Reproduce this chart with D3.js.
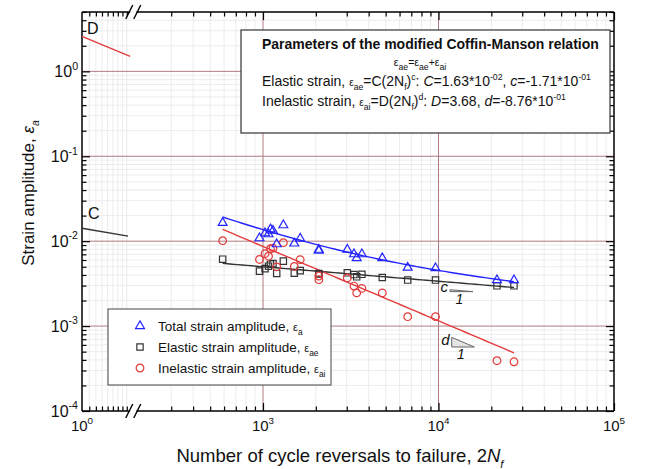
<!DOCTYPE html>
<html><head><meta charset="utf-8">
<script src="https://cdn.jsdelivr.net/npm/d3@7"></script>
<style>
html,body{margin:0;padding:0;background:#fff;}
svg{display:block;font-family:Arial,"Liberation Sans",sans-serif;}
</style></head><body>
<svg id="chart" width="647" height="469"></svg>
<script>
// Fatigue tests: reversals to failure (2Nf) and measured strain amplitudes
const reversals    = [589, 955, 1027, 1075, 1103, 1140, 1197, 1306, 1508, 1629, 2080, 2080, 3022, 3300, 3419, 3660, 4783, 6675, 9614, 21540, 26930];
const totalAmp     = [0.01642, 0.01085, 0.01242, 0.01209, 0.01384, 0.01329, 0.00922, 0.01543, 0.00940, 0.01076, 0.00794, 0.00773, 0.00794, 0.00703, 0.00631, 0.00703, 0.00631, 0.00488, 0.00481, 0.00348, 0.00348];
const elasticAmp   = [0.00614, 0.00444, 0.00475, 0.00508, 0.00536, 0.00544, 0.00417, 0.00582, 0.00420, 0.00450, 0.00417, 0.00411, 0.00424, 0.00404, 0.00380, 0.00407, 0.00374, 0.00348, 0.00348, 0.00298, 0.00298];
const inelasticAmp = [0.01014, 0.00609, 0.00713, 0.00666, 0.00816, 0.00827, 0.00498, 0.00960, 0.00504, 0.00606, 0.00388, 0.00352, 0.00369, 0.00296, 0.00246, 0.00278, 0.00246, 0.00129, 0.00129, 0.000391, 0.000380];

// Modified Coffin-Manson parameters
const C = 1.63e-2, c = -0.171;
const D = 3.68,   d = -0.876;
const fitRange = [589, 26930];

// Intercept markers drawn on the short segment near 2Nf = 1
const dMarkerN = [1, 1.88], dMarkerAmp = [2.58, 1.50];
const cMarkerN = [1, 1.83], cMarkerAmp = [0.0142, 0.0115];

// Slope triangles (start reversals, start amplitude, run in decades)
const slopeMarks = [
  {label: "c", slope: c, n0: 11630, top: 0.00268, run: 0.131},
  {label: "d", slope: d, n0: 11890, top: 0.000736, run: 0.129}
];

// Axis ticks
const xMajorRight = [1e3, 1e4, 1e5];
const xMinorRight = [300,400,500,600,700,800,900, 2000,3000,4000,5000,6000,7000,8000,9000, 20000,30000,40000,50000,60000,70000,80000,90000];
const xMinorLeft  = [1.1,1.2,1.3,1.4,1.5,1.6,1.7,1.8];
const xLabels = [{v: 1, e: "0", seg: "left"}, {v: 1e3, e: "3", seg: "right"}, {v: 1e4, e: "4", seg: "right"}, {v: 1e5, e: "5", seg: "right"}];
const yMajor = [1e-4, 1e-3, 1e-2, 1e-1, 1e0];
const yExp   = ["-4", "-3", "-2", "-1", "0"];
const yMinor = [];
[1e-4, 1e-3, 1e-2, 1e-1].forEach(b => [2,3,4,5,6,7,8,9].forEach(m => yMinor.push(b*m)));
[2,3,4,5].forEach(m => yMinor.push(m));

const L = 82, R = 614, T = 12, B = 411;
const svg = d3.select("#chart");

// Broken logarithmic x axis: a short piece starting at 1, then 10^2.3 .. 10^5
const xLeft  = d3.scaleLog().domain([1, 10]).range([L, L + 175.5]);
const xRight = d3.scaleLog().domain([100, 1e5]).range([L + 5.5, R]);
const x = v => (v < 10 ? xLeft(v) : xRight(v));
const y = d3.scaleLog().domain([1e-4, 5]).range([B, T]);
const breakL = xLeft(1.88), breakR = xRight(190);

// Grid
const grid = svg.append("g");
grid.selectAll(".gxm").data(xMinorRight.concat(xMinorLeft)).join("line")
  .attr("x1", v => x(v)).attr("x2", v => x(v)).attr("y1", T).attr("y2", B)
  .attr("stroke", "#ececec").attr("stroke-width", 1);
grid.selectAll(".gym").data(yMinor).join("line")
  .attr("x1", L).attr("x2", R).attr("y1", v => y(v)).attr("y2", v => y(v))
  .attr("stroke", "#ececec").attr("stroke-width", 1);
grid.selectAll(".gxM").data([1e3, 1e4]).join("line")
  .attr("x1", v => x(v)).attr("x2", v => x(v)).attr("y1", T).attr("y2", B)
  .attr("stroke", "#b07a82").attr("stroke-width", 1);
grid.selectAll(".gyM").data([1e-3, 1e-2, 1e-1, 1e0]).join("line")
  .attr("x1", L).attr("x2", R).attr("y1", v => y(v)).attr("y2", v => y(v))
  .attr("stroke", "#b07a82").attr("stroke-width", 1);

// Ticks (inward) on all four sides
function ticks(axisGen, scale, values, size, tx, ty) {
  const g = svg.append("g").attr("transform", `translate(${tx},${ty})`)
    .call(axisGen(scale).tickValues(values).tickSize(-size).tickFormat(""));
  g.select(".domain").remove();
  g.selectAll("line").attr("stroke", "#000").attr("stroke-width", 1.2);
}
ticks(d3.axisBottom, xRight, xMinorRight, 4.5, 0, B);
ticks(d3.axisBottom, xRight, xMajorRight, 8, 0, B);
ticks(d3.axisBottom, xLeft, xMinorLeft, 4.5, 0, B);
ticks(d3.axisTop, xRight, xMinorRight, 4.5, 0, T);
ticks(d3.axisTop, xRight, xMajorRight, 8, 0, T);
ticks(d3.axisTop, xLeft, xMinorLeft, 4.5, 0, T);
ticks(d3.axisLeft, y, yMinor, 4.5, L, 0);
ticks(d3.axisLeft, y, yMajor, 8, L, 0);
ticks(d3.axisRight, y, yMinor, 4.5, R, 0);
ticks(d3.axisRight, y, yMajor, 8, R, 0);

// Frame with axis breaks
const frame = svg.append("g").attr("stroke", "#000").attr("stroke-width", 1.5).attr("fill", "none");
frame.append("line").attr("x1", L).attr("x2", L).attr("y1", T).attr("y2", B);
frame.append("line").attr("x1", R).attr("x2", R).attr("y1", T).attr("y2", B);
[T, B].forEach(yy => {
  frame.append("line").attr("x1", L).attr("x2", breakL).attr("y1", yy).attr("y2", yy);
  frame.append("line").attr("x1", breakR).attr("x2", R).attr("y1", yy).attr("y2", yy);
  [-4, 4].forEach(off => {
    const cx = (breakL + breakR) / 2 + off;
    frame.append("line").attr("x1", cx - 3.5).attr("x2", cx + 3.5)
      .attr("y1", yy + 7).attr("y2", yy - 7).attr("stroke-width", 1.4);
  });
});

// Tick labels with superscript exponents
function powLabel(px, py, exp, anchor, size) {
  const t = svg.append("text").attr("x", px).attr("y", py)
    .attr("text-anchor", anchor).attr("font-size", size).attr("fill", "#111");
  t.append("tspan").text("10");
  t.append("tspan").attr("dy", -0.45 * size).attr("font-size", size * 0.66).text(exp);
}
yMajor.forEach((v, i) => powLabel(L - 4, y(v) + 5.5, yExp[i], "end", 16));
xLabels.forEach(o => powLabel(o.seg === "left" ? xLeft(o.v) : xRight(o.v), 431, o.e, "middle", 15));

// Rich text helper: [string, kinds] with kinds among sub, sup, it, eps
function rich(sel, parts, size, epsScale = 0.8) {
  let shift = 0;
  parts.forEach(([str, kind]) => {
    const ts = sel.append("tspan").text(str);
    let target = 0, fs = size;
    if (kind.includes("sub")) { target = 0.3 * size; fs = 0.62 * size; }
    if (kind.includes("sup")) { target = -0.42 * size; fs = 0.62 * size; }
    if (kind.includes("eps")) fs = epsScale * size;
    ts.attr("dy", target - shift).attr("font-size", fs);
    if (kind.includes("it")) ts.attr("font-style", "italic");
    shift = target;
  });
}

// Axis titles
const yt = svg.append("text").attr("transform", "translate(34,193) rotate(-90)")
  .attr("text-anchor", "middle").attr("font-size", 17).attr("fill", "#111");
rich(yt, [["Strain amplitude, ", ""], ["ε", "it"], ["a", "sub it"]], 17, 1);
const xt = svg.append("text").attr("x", 340).attr("y", 462)
  .attr("text-anchor", "middle").attr("font-size", 18.5).attr("fill", "#111");
rich(xt, [["Number of cycle reversals to failure, 2", ""], ["N", "it"], ["f", "sub it"]], 18.5);

// Intercept markers C and D
const seg = d3.line().x(p => x(p[0])).y(p => y(p[1]));
svg.append("path").attr("d", seg(d3.zip(dMarkerN, dMarkerAmp)))
  .attr("stroke", "#e03a3a").attr("stroke-width", 1.3).attr("fill", "none");
svg.append("path").attr("d", seg(d3.zip(cMarkerN, cMarkerAmp)))
  .attr("stroke", "#333").attr("stroke-width", 1.3).attr("fill", "none");
svg.append("text").attr("x", x(1) + 5).attr("y", y(dMarkerAmp[0]) - 2)
  .attr("font-size", 16).attr("fill", "#111").text("D");
svg.append("text").attr("x", x(1) + 6).attr("y", y(cMarkerAmp[0]) - 9)
  .attr("font-size", 16).attr("fill", "#111").text("C");

// Fitted curves
const samples = d3.range(0, 61).map(i => fitRange[0] * Math.pow(fitRange[1] / fitRange[0], i / 60));
const elastic = n => C * Math.pow(n, c);
const inelastic = n => D * Math.pow(n, d);
const curve = f => d3.line().x(n => x(n)).y(n => y(f(n)))(samples);
const colors = {total: "#2323ff", elastic: "#333333", inelastic: "#e33b3b"};
svg.append("path").attr("d", curve(n => elastic(n) + inelastic(n)))
  .attr("stroke", colors.total).attr("stroke-width", 1.4).attr("fill", "none");
svg.append("path").attr("d", curve(elastic))
  .attr("stroke", colors.elastic).attr("stroke-width", 1.4).attr("fill", "none");
svg.append("path").attr("d", curve(inelastic))
  .attr("stroke", colors.inelastic).attr("stroke-width", 1.4).attr("fill", "none");

// Data markers
const symTri = d3.symbol().type(d3.symbolTriangle).size(34)();
const symSq  = d3.symbol().type(d3.symbolSquare).size(40)();
const symCir = d3.symbol().type(d3.symbolCircle).size(46)();
function markers(values, sym, color) {
  svg.append("g").selectAll("path").data(d3.zip(reversals, values)).join("path")
    .attr("d", sym).attr("transform", p => `translate(${x(p[0])},${y(p[1])})`)
    .attr("fill", "none").attr("stroke", color).attr("stroke-width", 1.2);
}
markers(elasticAmp, symSq, colors.elastic);
markers(inelasticAmp, symCir, colors.inelastic);
markers(totalAmp, symTri, colors.total);

// Slope triangles
slopeMarks.forEach(s => {
  const n1 = s.n0 * Math.pow(10, s.run);
  const bottom = s.top * Math.pow(10, s.slope * s.run);
  const pts = [[s.n0, s.top], [n1, bottom], [s.n0, bottom]];
  svg.append("path").attr("d", d3.line().x(p => x(p[0])).y(p => y(p[1]))(pts) + "Z")
    .attr("fill", "#e4e4e4").attr("stroke", "#666").attr("stroke-width", 1);
  svg.append("text").attr("x", x(s.n0) - 2).attr("y", y(bottom) + (s.label === "c" ? 0 : -2))
    .attr("text-anchor", "end").attr("font-size", 15).attr("font-style", "italic").attr("fill", "#111").text(s.label);
  svg.append("text").attr("x", (x(s.n0) + x(n1)) / 2 - 2).attr("y", y(bottom) + 12)
    .attr("text-anchor", "middle").attr("font-size", 14).attr("font-style", "italic").attr("fill", "#111").text("1");
});

// Legend
const lg = svg.append("g");
lg.append("rect").attr("x", 108).attr("y", 309).attr("width", 223).attr("height", 76)
  .attr("fill", "#fff").attr("stroke", "#444").attr("stroke-width", 1);
const legendItems = [
  {sym: symTri, color: colors.total, parts: [["Total strain amplitude, ", ""], ["ε", "eps"], ["a", "sub"]]},
  {sym: symSq, color: colors.elastic, parts: [["Elastic strain amplitude, ", ""], ["ε", "eps"], ["ae", "sub"]]},
  {sym: symCir, color: colors.inelastic, parts: [["Inelastic strain amplitude, ", ""], ["ε", "eps"], ["ai", "sub"]]}
];
legendItems.forEach((it, i) => {
  const yy = 326 + i * 21;
  lg.append("path").attr("d", it.sym).attr("transform", `translate(140,${yy})`)
    .attr("fill", "none").attr("stroke", it.color).attr("stroke-width", 1.2);
  const t = lg.append("text").attr("x", 158).attr("y", yy + 5).attr("font-size", 13.5).attr("fill", "#111");
  rich(t, it.parts, 13.5);
});

// Parameter box
const pb = svg.append("g");
pb.append("rect").attr("x", 241).attr("y", 30).attr("width", 369).attr("height", 103)
  .attr("fill", "#fff").attr("stroke", "#333").attr("stroke-width", 1.2);
pb.append("text").attr("x", 262).attr("y", 49).attr("font-size", 14).attr("font-weight", "bold")
  .attr("fill", "#111").text("Parameters of the modified Coffin-Manson relation");
const l2 = pb.append("text").attr("x", 420).attr("y", 66).attr("text-anchor", "middle")
  .attr("font-size", 14).attr("fill", "#111");
rich(l2, [["ε", "eps"], ["ae", "sub"], ["=ε", "eps"], ["ae", "sub"], ["+ε", "eps"], ["ai", "sub"]], 14, 0.75);
const l3 = pb.append("text").attr("x", 262).attr("y", 86).attr("font-size", 14).attr("fill", "#111");
rich(l3, [["Elastic strain, ", ""], ["ε", "eps"], ["ae", "sub"], ["=C(2N", ""], ["f", "sub"], [")", ""], ["c", "sup"],
  [": ", ""], ["C", "it"], ["=1.63*10", ""], ["-02", "sup"], [", ", ""], ["c", "it"], ["=-1.71*10", ""], ["-01", "sup"]], 14, 0.72);
const l4 = pb.append("text").attr("x", 262).attr("y", 106).attr("font-size", 14).attr("fill", "#111");
rich(l4, [["Inelastic strain, ", ""], ["ε", "eps"], ["ai", "sub"], ["=D(2N", ""], ["f", "sub"], [")", ""], ["d", "sup"],
  [": ", ""], ["D", "it"], ["=3.68, ", ""], ["d", "it"], ["=-8.76*10", ""], ["-01", "sup"]], 14, 0.72);
</script>
</body></html>
